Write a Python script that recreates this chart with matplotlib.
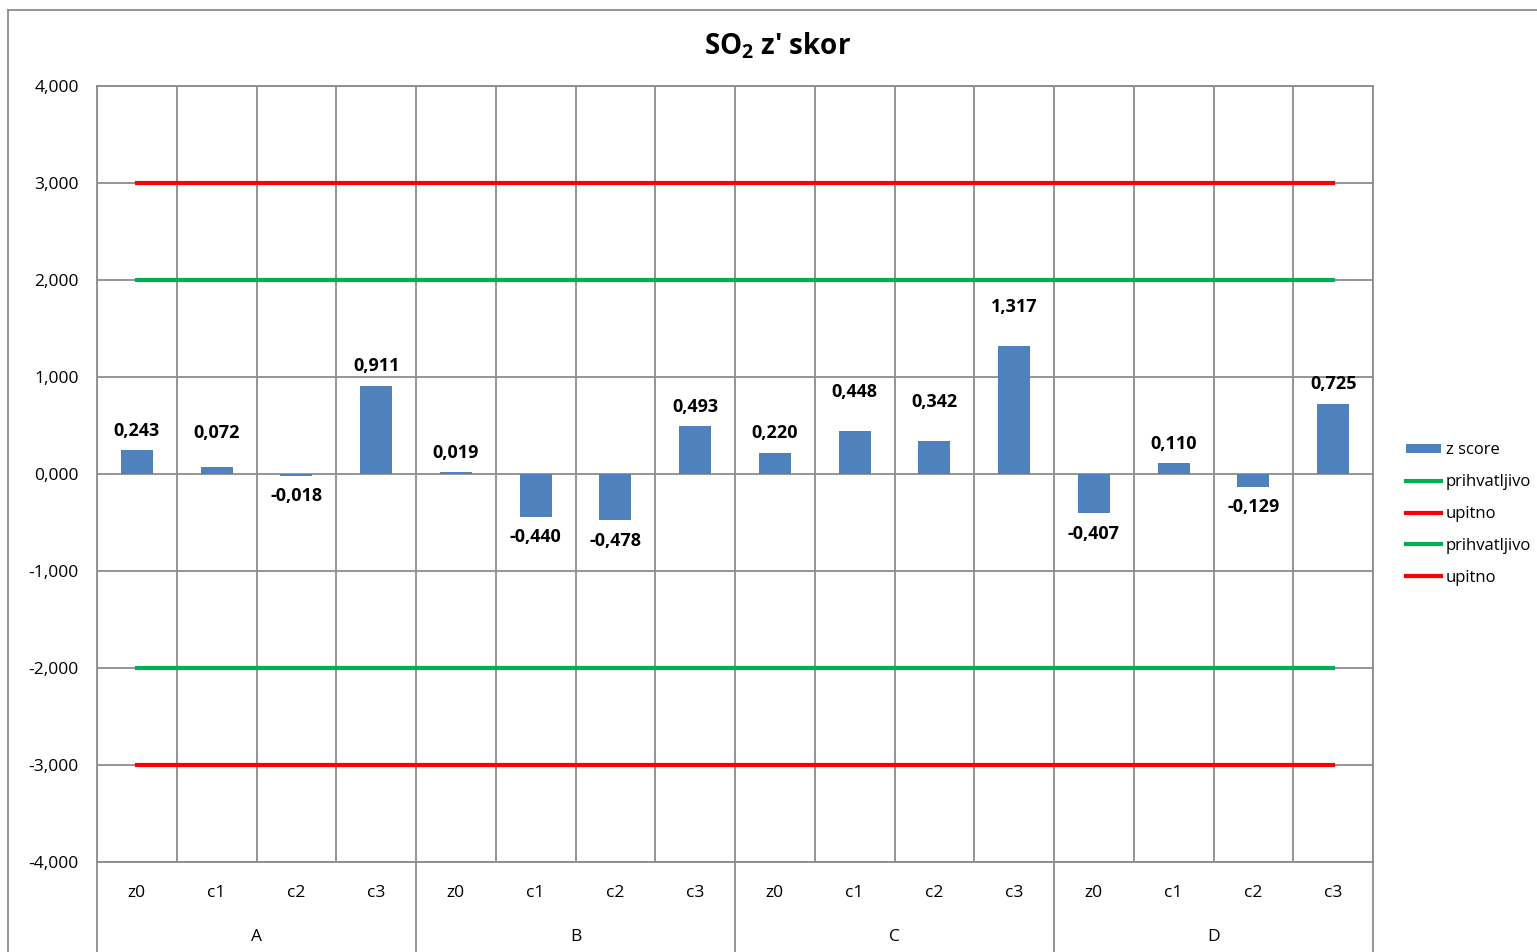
#!/usr/bin/env python3

import matplotlib.pyplot as plt
from matplotlib.lines import Line2D
from matplotlib.patches import Patch
import numpy as np

plt.rcParams['font.family'] = ['Open Sans', 'DejaVu Sans']
plt.rcParams['mathtext.fontset'] = 'custom'
plt.rcParams['mathtext.rm'] = 'Open Sans:bold'

groups = ["A", "B", "C", "D"]
subcats = ["z0", "c1", "c2", "c3"]
z_score = [0.243, 0.072, -0.018, 0.911,
           0.019, -0.440, -0.478, 0.493,
           0.220, 0.448, 0.342, 1.317,
           -0.407, 0.110, -0.129, 0.725]
prihvatljivo_hi = [2.0] * 16
upitno_hi = [3.0] * 16
prihvatljivo_lo = [-2.0] * 16
upitno_lo = [-3.0] * 16
yticks = [-4, -3, -2, -1, 0, 1, 2, 3, 4]

# extra lift for a few labels (as in the original sheet)
label_lift = [0] * 16
label_lift[1] = 0.15
label_lift[9] = label_lift[10] = label_lift[11] = 0.2

grid_c = '#8c8c8c'
bar_c = '#4f81bd'
green = '#00b050'
red = '#ff0000'

fig = plt.figure(figsize=(15.37, 9.52), dpi=100)
ax = fig.add_axes([97 / 1537, 90 / 952, 1276 / 1537, 776 / 952])

n = len(z_score)
x = np.arange(n)

bars = ax.bar(x, z_score, width=0.4, color=bar_c, zorder=3)
l1, = ax.plot(x, prihvatljivo_hi, color=green, lw=3, zorder=4)
l2, = ax.plot(x, upitno_hi, color=red, lw=3, zorder=4)
l3, = ax.plot(x, prihvatljivo_lo, color=green, lw=3, zorder=4)
l4, = ax.plot(x, upitno_lo, color=red, lw=3, zorder=4)

for xi, v, lift in zip(x, z_score, label_lift):
    txt = f"{v:.3f}".replace('.', ',')
    if v >= 0:
        ax.text(xi, v + 0.2 + lift, txt, ha='center', va='center',
                fontsize=13, fontweight='bold', zorder=5)
    else:
        ax.text(xi, v - 0.21, txt, ha='center', va='center',
                fontsize=13, fontweight='bold', zorder=5)

ax.set_xlim(-0.5, n - 0.5)
ax.set_ylim(-4, 4)
ax.set_yticks(yticks)
ax.set_yticklabels([f"{v:.3f}".replace('.', ',') for v in yticks], fontsize=12.5)
ax.tick_params(axis='y', length=0, pad=13)
ax.set_xticks([])

# grid
for yv in yticks:
    ax.axhline(yv, color=grid_c, lw=1.3, zorder=1)
for xb in np.arange(-0.5, n, 1.0):
    ax.axvline(xb, color=grid_c, lw=1.3, zorder=1)
for s in ax.spines.values():
    s.set_color(grid_c)
    s.set_linewidth(1.3)

# two-level category axis
trans = ax.get_xaxis_transform()
for i in range(n):
    ax.text(i, -31 / 776, subcats[i % 4], transform=trans, ha='center',
            va='center', fontsize=12.5)
for g, name in enumerate(groups):
    ax.text(g * 4 + 1.5, -75 / 776, name, transform=trans, ha='center',
            va='center', fontsize=12.5)
for xb in np.arange(-0.5, n, 4.0):
    ax.plot([xb, xb], [0, -0.2], transform=trans, color=grid_c, lw=1.3,
            clip_on=False)

fig.text(778 / 1537, 1 - 46 / 952, r"SO$_\mathregular{2}$ z' skor",
         fontsize=20, fontweight='bold', ha='center', va='center')

# chart frame
fig.add_artist(Line2D([8 / 1537, 8 / 1537], [0, 1 - 10 / 952],
                      transform=fig.transFigure, color=grid_c, lw=1.3))
fig.add_artist(Line2D([8 / 1537, 1], [1 - 10 / 952, 1 - 10 / 952],
                      transform=fig.transFigure, color=grid_c, lw=1.3))

handles = [Patch(facecolor=bar_c), l1, l2, l3, l4]
labels = ["z score", "prihvatljivo", "upitno", "prihvatljivo", "upitno"]
fig.legend(handles, labels, loc='center left',
           bbox_to_anchor=(1393 / 1537, 1 - 514 / 952), frameon=False,
           fontsize=12, handlelength=2.1, handletextpad=0.25,
           labelspacing=0.95, handleheight=0.5, borderpad=0.3)

fig.savefig("out.png", dpi=100)
